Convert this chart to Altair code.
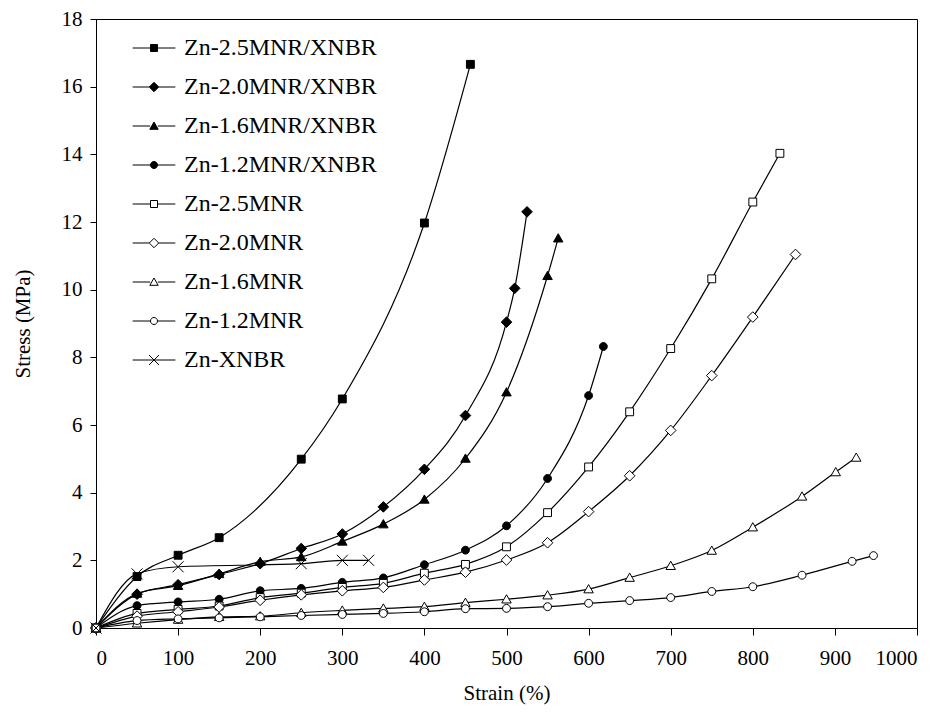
import altair as alt
import pandas as pd

series = ["Zn-2.5MNR/XNBR", "Zn-2.0MNR/XNBR", "Zn-1.6MNR/XNBR", "Zn-1.2MNR/XNBR",
          "Zn-2.5MNR", "Zn-2.0MNR", "Zn-1.6MNR", "Zn-1.2MNR", "Zn-XNBR"]

strain_s1 = [0, 50, 100, 150, 250, 300, 400, 456]
stress_s1 = [0, 1.52, 2.15, 2.67, 4.99, 6.77, 11.97, 16.66]

strain_s2 = [0, 50, 100, 150, 200, 250, 300, 350, 400, 450, 500, 510, 525]
stress_s2 = [0, 1.0, 1.28, 1.58, 1.9, 2.35, 2.78, 3.58, 4.69, 6.28, 9.04, 10.04, 12.3]

strain_s3 = [0, 50, 100, 150, 200, 250, 300, 350, 400, 450, 500, 550, 563]
stress_s3 = [0, 1.02, 1.25, 1.6, 1.96, 2.1, 2.56, 3.07, 3.8, 5.01, 6.97, 10.41, 11.52]

strain_s4 = [0, 50, 100, 150, 200, 250, 300, 350, 400, 450, 500, 550, 600, 618]
stress_s4 = [0, 0.66, 0.77, 0.85, 1.1, 1.17, 1.35, 1.48, 1.87, 2.3, 3.02, 4.42, 6.87, 8.32]

strain_s5 = [0, 50, 100, 150, 200, 250, 300, 350, 400, 450, 500, 550, 600, 650, 700, 750, 800, 833]
stress_s5 = [0, 0.43, 0.55, 0.65, 0.9, 1.03, 1.2, 1.32, 1.62, 1.88, 2.4, 3.41, 4.76, 6.39, 8.26, 10.32, 12.59, 14.03]

strain_s6 = [0, 50, 100, 150, 200, 250, 300, 350, 400, 450, 500, 550, 600, 650, 700, 750, 800, 852]
stress_s6 = [0, 0.35, 0.48, 0.62, 0.82, 0.98, 1.1, 1.2, 1.42, 1.65, 2.01, 2.52, 3.44, 4.5, 5.84, 7.46, 9.19, 11.04]

strain_s7 = [0, 50, 100, 150, 200, 250, 300, 350, 400, 450, 500, 550, 600, 650, 700, 750, 800, 860, 901, 926]
stress_s7 = [0, 0.14, 0.25, 0.33, 0.35, 0.45, 0.52, 0.58, 0.63, 0.75, 0.85, 0.97, 1.15, 1.49, 1.84, 2.29, 2.98, 3.89, 4.61, 5.04]

strain_s8 = [0, 50, 100, 150, 200, 250, 300, 350, 400, 450, 500, 550, 600, 650, 700, 750, 800, 860, 921, 947]
stress_s8 = [0, 0.22, 0.27, 0.3, 0.33, 0.37, 0.4, 0.43, 0.48, 0.57, 0.58, 0.63, 0.73, 0.81, 0.9, 1.08, 1.22, 1.56, 1.97, 2.14]

strain_s9 = [0, 50, 100, 250, 300, 332]
stress_s9 = [0, 1.6, 1.81, 1.9, 2.0, 2.0]

x_ticks = list(range(0, 1001, 100))
y_ticks = list(range(0, 19, 2))

strains = [strain_s1, strain_s2, strain_s3, strain_s4, strain_s5, strain_s6, strain_s7, strain_s8, strain_s9]
stresses = [stress_s1, stress_s2, stress_s3, stress_s4, stress_s5, stress_s6, stress_s7, stress_s8, stress_s9]

rows = []
for name, xs, ys in zip(series, strains, stresses):
    for x, y in zip(xs, ys):
        rows.append({"series": name, "strain": x, "stress": y})
df = pd.DataFrame(rows)

SQ = "M-1,-1H1V1H-1Z"
DI = "M0,-1.35L1.35,0L0,1.35L-1.35,0Z"
TR = "M0,-1.15L1.2,0.95H-1.2Z"
CI = "M1,0A1,1,0,1,1,-1,0A1,1,0,1,1,1,0Z"
XX = "M-1.4,-1.4L1.4,1.4M-1.4,1.4L1.4,-1.4"
marker_paths = [SQ, DI, TR, CI, SQ, DI, TR, CI, XX]
half = [1.0, 1.35, 1.1, 1.0, 1.0, 1.35, 1.1, 1.0, 0.0]
legend_paths = [f"M-6.1,0H{-h}M{h},0H6.1" + p for p, h in zip(marker_paths, half)]
fills = ["black"] * 4 + ["white"] * 4 + ["white"]
strokes = ["black"] * 9

FONT = "Liberation Serif"

x_enc = alt.X("strain:Q", scale=alt.Scale(domain=[0, 1000], nice=False),
              axis=alt.Axis(values=x_ticks, format="d", title="Strain (%)", tickSize=7,
                            labelPadding=12, titlePadding=14, grid=False))
y_enc = alt.Y("stress:Q", scale=alt.Scale(domain=[0, 18], nice=False),
              axis=alt.Axis(values=y_ticks, format="d", title="Stress (MPa)", tickSize=6,
                            labelPadding=8, titlePadding=28, grid=False))

lines = alt.Chart(df).mark_line(color="black", strokeWidth=1.2, interpolate="monotone").encode(
    x=x_enc, y=y_enc, detail="series:N"
)

points = alt.Chart(df).mark_point(filled=True, strokeWidth=1, size=62, opacity=1).encode(
    x="strain:Q", y="stress:Q",
    shape=alt.Shape("series:N", scale=alt.Scale(domain=series, range=marker_paths), legend=None),
    fill=alt.Fill("series:N", scale=alt.Scale(domain=series, range=fills), legend=None),
    stroke=alt.Stroke("series:N", scale=alt.Scale(domain=series, range=strokes), legend=None),
)

leg = dict(title=None, orient="none", legendX=46, legendY=17,
           symbolSize=49, symbolStrokeWidth=1, labelOffset=18, rowPadding=15,
           labelFontSize=24, labelFont=FONT, labelColor="black",
           padding=0, labelLimit=400)

legend_layer = alt.Chart(df).transform_filter("datum.strain < 0").mark_point(
    filled=True, strokeWidth=1, size=49, opacity=1
).encode(
    x="strain:Q", y="stress:Q",
    shape=alt.Shape("series:N", scale=alt.Scale(domain=series, range=legend_paths),
                    legend=alt.Legend(**leg)),
    fill=alt.Fill("series:N", scale=alt.Scale(domain=series, range=fills),
                  legend=alt.Legend(**leg)),
    stroke=alt.Stroke("series:N", scale=alt.Scale(domain=series, range=strokes),
                      legend=alt.Legend(**leg)),
)

chart = alt.layer(lines, points, legend_layer).resolve_scale(
    shape="independent", fill="independent", stroke="independent"
).properties(
    width=821, height=609,
    autosize=alt.AutoSizeParams(type="none"),
    padding={"left": 88, "top": 11, "right": 19, "bottom": 86},
).configure(
    background="white"
).configure_view(
    stroke="black", strokeWidth=1
).configure_axis(
    domainColor="black", tickColor="black", labelColor="black", titleColor="black",
    labelFont=FONT, titleFont=FONT, labelFontSize=21, titleFontSize=21,
    titleFontWeight="normal", domainWidth=1, tickWidth=1
)

chart.save("out.html", embed_options={"renderer": "svg", "actions": False})
